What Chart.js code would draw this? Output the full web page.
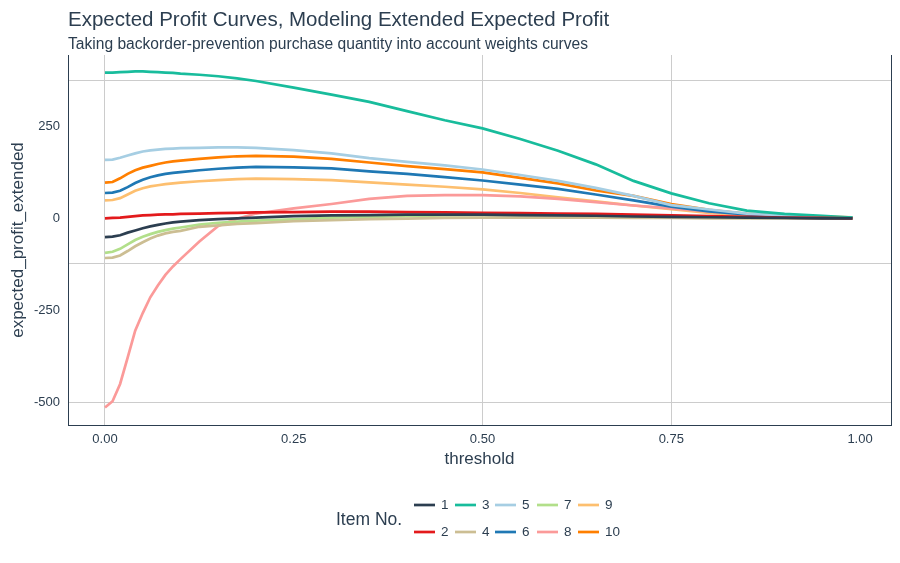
<!DOCTYPE html>
<html>
<head>
<meta charset="utf-8">
<script src="https://cdn.jsdelivr.net/npm/chart.js@4"></script>
<style>
html,body{margin:0;padding:0;background:#fff;}
canvas{display:block;}
</style>
</head>
<body>
<canvas id="c" width="900" height="563"></canvas>
<script>
const thresholds = [0, 0.01, 0.02, 0.03, 0.04, 0.05, 0.06, 0.07, 0.08, 0.09, 0.10, 0.125, 0.15, 0.175, 0.20, 0.25, 0.30, 0.35, 0.40, 0.45, 0.50, 0.55, 0.60, 0.65, 0.70, 0.75, 0.80, 0.85, 0.90, 0.95, 0.99];

const item1  = [-50, -49, -45, -38, -32, -26, -21, -17, -13, -10, -8, -4, -1, 1, 3, 7, 9, 10, 11, 11, 11, 10, 9, 8, 6, 5, 4, 3, 2, 1, 1];
const item2  = [1, 2, 3, 5, 7, 9, 10, 11, 12, 12, 13, 14, 15, 16, 17, 18, 19, 19, 18, 17, 16, 15, 14, 13, 11, 9, 7, 5, 3, 2, 1];
const item3  = [398, 398, 399, 400, 401, 401, 400, 399, 398, 397, 395, 392, 388, 382, 375, 357, 338, 318, 293, 268, 246, 217, 185, 148, 103, 69, 42, 22, 13, 8, 3];
const item4  = [-107, -106, -100, -88, -75, -64, -54, -46, -40, -36, -33, -22, -18, -14, -12, -7, -4, -1, 0, 2, 3, 3, 3, 3, 2, 2, 1, 1, 1, 0, 0];
const item5  = [160, 161, 166, 172, 178, 183, 186, 188, 190, 191, 192, 193, 194, 194, 193, 187, 178, 165, 155, 145, 134, 119, 103, 84, 62, 37, 25, 14, 8, 4, 2];
const item6  = [70, 71, 76, 86, 97, 106, 113, 118, 122, 125, 127, 132, 136, 139, 141, 140, 137, 129, 122, 113, 104, 93, 81, 66, 50, 33, 20, 12, 7, 4, 2];
const item7  = [-93, -90, -82, -70, -58, -49, -42, -36, -31, -27, -24, -16, -11, -8, -5, -2, 3, 5, 7, 9, 10, 10, 10, 9, 8, 7, 6, 5, 4, 3, 2];
const item8  = [-514, -497, -450, -378, -305, -257, -214, -182, -153, -130, -110, -62, -20, 0, 14, 28, 40, 54, 62, 64, 64, 61, 54, 45, 36, 28, 19, 12, 7, 3, 1];
const item9  = [50, 51, 56, 66, 76, 83, 88, 91, 94, 96, 98, 102, 105, 108, 109, 108, 105, 99, 93, 87, 80, 70, 58, 47, 36, 26, 16, 10, 6, 4, 2];
const item10 = [98, 100, 110, 122, 132, 139, 144, 149, 153, 156, 158, 163, 167, 170, 171, 169, 163, 153, 143, 135, 126, 111, 96, 77, 62, 40, 24, 13, 8, 5, 4];

const itemLabels = ['1', '2', '3', '4', '5', '6', '7', '8', '9', '10'];
const itemColors = ['#2C3E50', '#E31A1C', '#18BC9C', '#CCBE93', '#A6CEE3', '#1F78B4', '#B2DF8A', '#FB9A99', '#FDBF6F', '#FF7F00'];
const itemValues = [item1, item2, item3, item4, item5, item6, item7, item8, item9, item10];

const xTickValues = [0, 0.25, 0.5, 0.75, 1.0];
const xGridValues = [0, 0.5, 0.75];
const yTickValues = [-500, -250, 0, 250];
const yGridValues = [-500, -121.5, 377.7];

const titleText = 'Expected Profit Curves, Modeling Extended Expected Profit';
const subtitleText = 'Taking backorder-prevention purchase quantity into account weights curves';
const legendTitle = 'Item No.';

const textColor = '#2C3E50';
const fontFam = '"Liberation Sans", Arial, sans-serif';

const datasets = itemValues.map((vals, i) => ({
  label: itemLabels[i],
  data: vals.map((v, j) => ({x: thresholds[j], y: v})),
  borderColor: itemColors[i],
  backgroundColor: itemColors[i],
  borderWidth: 2.7,
  pointRadius: 0,
  tension: 0,
  fill: false
}));

const textPlugin = {
  id: 'textPlugin',
  afterDraw(chart) {
    const ctx = chart.ctx;
    ctx.save();
    ctx.fillStyle = textColor;
    ctx.textAlign = 'left';
    ctx.textBaseline = 'alphabetic';
    ctx.font = '20.5px ' + fontFam;
    ctx.fillText(titleText, 68, 26);
    ctx.font = '15.6px ' + fontFam;
    ctx.fillText(subtitleText, 68, 49);

    // right border of panel
    const a = chart.chartArea;
    ctx.strokeStyle = textColor;
    ctx.lineWidth = 1;
    ctx.beginPath();
    ctx.moveTo(a.right + 0.5, a.top);
    ctx.lineTo(a.right + 0.5, a.bottom);
    ctx.stroke();

    // legend
    ctx.font = '17.5px ' + fontFam;
    ctx.textBaseline = 'middle';
    ctx.fillText(legendTitle, 336, 520);
    const colX = [414, 455, 495, 537, 578];
    const rowY = [505, 532];
    ctx.font = '13.5px ' + fontFam;
    chart.data.datasets.forEach((ds, i) => {
      const c = Math.floor(i / 2), r = i % 2;
      const x = colX[c], y = rowY[r];
      ctx.strokeStyle = ds.borderColor;
      ctx.lineWidth = 2.7;
      ctx.beginPath();
      ctx.moveTo(x, y);
      ctx.lineTo(x + 21, y);
      ctx.stroke();
      ctx.fillStyle = textColor;
      ctx.fillText(ds.label, x + 27, y + 0.5);
    });
    ctx.restore();
  }
};

new Chart(document.getElementById('c'), {
  type: 'line',
  data: {datasets},
  options: {
    responsive: false,
    animation: false,
    devicePixelRatio: 1,
    layout: {padding: {left: 0, right: 9, top: 55, bottom: 88}},
    plugins: {legend: {display: false}, tooltip: {enabled: false}, title: {display: false}},
    scales: {
      x: {
        type: 'linear',
        min: -0.049,
        max: 1.041,
        afterBuildTicks: (s) => { s.ticks = xTickValues.map(v => ({value: v})); },
        afterFit: (s) => { s.height = 50; },
        ticks: {
          callback: (v) => Number(v).toFixed(2),
          color: textColor,
          font: {family: fontFam, size: 13},
          padding: 7,
          maxRotation: 0,
          autoSkip: false
        },
        grid: {
          color: (c) => (c.tick && xGridValues.includes(c.tick.value)) ? '#CCCCCC' : 'rgba(0,0,0,0)',
          lineWidth: 1,
          drawTicks: false
        },
        border: {color: textColor, width: 1},
        title: {display: true, text: 'threshold', color: textColor, font: {family: fontFam, size: 17}, padding: {top: 0, bottom: 5}}
      },
      y: {
        type: 'linear',
        min: -561.8,
        max: 445.8,
        afterBuildTicks: (s) => {
          const vals = Array.from(new Set(yTickValues.concat(yGridValues))).sort((a, b) => a - b);
          s.ticks = vals.map(v => ({value: v}));
        },
        afterFit: (s) => { s.width = 68; },
        ticks: {
          callback: (v) => yTickValues.includes(v) ? String(v) : '',
          color: textColor,
          font: {family: fontFam, size: 13},
          padding: 8,
          autoSkip: false
        },
        grid: {
          color: (c) => (c.tick && yGridValues.includes(c.tick.value)) ? '#CCCCCC' : 'rgba(0,0,0,0)',
          lineWidth: 1,
          drawTicks: false
        },
        border: {color: textColor, width: 1},
        title: {display: true, text: 'expected_profit_extended', color: textColor, font: {family: fontFam, size: 17}, padding: {top: 8, bottom: 0}}
      }
    }
  },
  plugins: [textPlugin]
});
</script>
</body>
</html>
